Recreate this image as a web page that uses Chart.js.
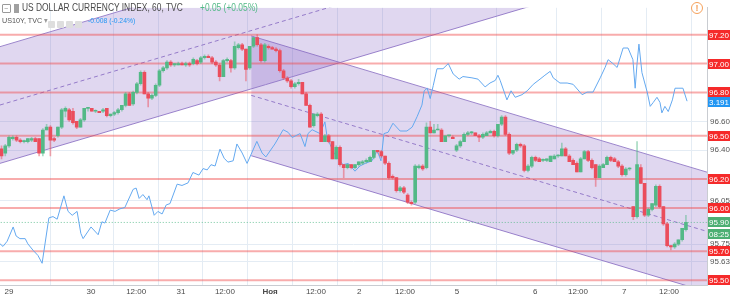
<!DOCTYPE html>
<html lang="ru">
<head>
<meta charset="UTF-8">
<title>US Dollar Currency Index, 60</title>
<script src="https://cdn.jsdelivr.net/npm/chart.js"></script>
<style>
  body { margin: 0; background: #fff; }
  .wrap { position: relative; width: 730px; height: 296px; overflow: hidden; }
  .hdr { position: absolute; white-space: nowrap; font-family: "Liberation Sans", Arial, sans-serif; line-height: 1; transform-origin: left top; }
  .ico { position: absolute; width: 7px; height: 7px; border: 1px solid #9a9a9a; border-radius: 1px; }
  .btn { display: inline-block; width: 7px; height: 7px; background: #dedede; margin-right: 2px; border-radius: 1px; vertical-align: middle; }
</style>
</head>
<body>
<div class="wrap">
  <canvas id="chart"></canvas>

  <div class="ico" style="left:2px;top:4px;"></div>
  <div class="hdr" style="left:4px;top:5px;font-size:7px;color:#888;">&minus;</div>
  <div class="hdr" style="left:14px;top:4px;width:5px;height:9px;background:#a0a0a0;"></div>
  <div class="hdr" style="left:22px;top:3px;font-size:10px;color:#4a4a4a;transform:scaleX(0.84);">US DOLLAR CURRENCY INDEX, 60, TVC</div>
  <div class="hdr" style="left:200px;top:3px;font-size:10px;color:#53b987;transform:scaleX(0.84);">+0.05 (+0.05%)</div>
  <div class="hdr" style="left:2px;top:17px;font-size:8px;color:#555;transform:scaleX(0.9);">US10Y, TVC <span style="color:#999">&#9662;</span></div>
  <div class="hdr" style="left:48px;top:16px;"><span class="btn"></span><span class="btn"></span><span class="btn"></span><span class="btn"></span></div>
  <div class="hdr" style="left:88px;top:17px;font-size:8px;color:#2196f3;transform:scaleX(0.85);">-0.008 (-0.24%)</div>
  <div class="hdr" style="left:691px;top:2px;width:10px;height:10px;border:1.5px solid #f5a05a;border-radius:50%;color:#f5a05a;font-size:9px;font-weight:bold;text-align:center;line-height:10px;">!</div>
</div>

<script>
// hourly candles, DXY (TVC), 29 Oct - 7 Nov
const opens = [
  96.41,96.38,96.43,96.48,96.49,96.47,96.46,96.46,96.47,96.48,
  96.48,96.38,96.54,96.56,96.48,96.50,96.56,96.67,96.68,96.67,
  96.60,96.56,96.61,96.69,96.69,96.67,96.67,96.67,96.69,96.64,
  96.65,96.66,96.68,96.71,96.79,96.72,96.80,96.86,96.94,96.79,
  96.76,96.78,96.85,96.95,96.97,97.01,96.99,96.99,97.00,96.99,
  97.00,97.00,97.02,97.01,97.04,97.05,97.04,97.01,96.99,96.91,
  97.02,97.02,96.97,97.11,97.13,97.10,96.97,97.12,97.18,97.13,
  97.02,97.12,97.11,97.10,97.09,96.95,96.90,96.88,96.84,96.86,
  96.87,96.79,96.71,96.57,96.64,96.65,96.46,96.50,96.46,96.34,
  96.42,96.30,96.28,96.30,96.28,96.30,96.31,96.32,96.32,96.35,
  96.40,96.39,96.36,96.31,96.22,96.21,96.12,96.14,96.09,96.04,
  96.04,96.28,96.29,96.28,96.56,96.52,96.54,96.54,96.46,96.50,
  96.49,96.40,96.43,96.46,96.51,96.52,96.52,96.50,96.49,96.50,
  96.52,96.53,96.50,96.58,96.63,96.51,96.38,96.40,96.44,96.43,
  96.26,96.29,96.35,96.34,96.33,96.33,96.32,96.34,96.36,96.36,
  96.41,96.36,96.33,96.31,96.25,96.34,96.39,96.33,96.30,96.21,
  96.28,96.30,96.35,96.34,96.32,96.29,96.23,96.27,96.01,95.94,
  96.28,96.17,95.95,95.99,96.02,96.15,96.01,95.89,95.74,95.73,
  95.75,95.78,95.85
];
const highs = [
  96.43,96.44,96.50,96.50,96.50,96.48,96.47,96.48,96.49,96.49,
  96.48,96.55,96.58,96.57,96.49,96.56,96.69,96.70,96.69,96.69,
  96.60,96.62,96.69,96.69,96.69,96.68,96.67,96.69,96.69,96.65,
  96.67,96.69,96.71,96.80,96.80,96.81,96.87,96.95,96.95,96.80,
  96.79,96.86,96.96,96.98,97.02,97.02,97.00,97.01,97.01,97.01,
  97.01,97.04,97.03,97.05,97.06,97.06,97.05,97.02,97.00,97.03,
  97.04,97.03,97.15,97.14,97.14,97.10,97.12,97.18,97.20,97.14,
  97.14,97.13,97.12,97.11,97.10,96.96,96.91,96.89,96.87,96.89,
  96.87,96.80,96.72,96.65,96.66,96.66,96.51,96.51,96.46,96.43,
  96.43,96.30,96.30,96.30,96.30,96.32,96.33,96.34,96.36,96.40,
  96.40,96.40,96.36,96.32,96.23,96.21,96.15,96.15,96.10,96.05,
  96.30,96.30,96.30,96.59,96.60,96.58,96.58,96.55,96.50,96.50,
  96.50,96.44,96.47,96.52,96.53,96.53,96.52,96.51,96.52,96.53,
  96.54,96.54,96.58,96.64,96.64,96.52,96.40,96.45,96.45,96.44,
  96.30,96.36,96.36,96.35,96.34,96.34,96.36,96.37,96.37,96.45,
  96.42,96.37,96.34,96.32,96.35,96.40,96.40,96.34,96.30,96.30,
  96.31,96.36,96.36,96.35,96.33,96.30,96.28,96.28,96.01,96.46,
  96.30,96.17,96.00,96.03,96.16,96.16,96.01,95.90,95.74,95.76,
  95.78,95.86,95.95
];
const lows = [
  96.34,96.36,96.42,96.47,96.46,96.45,96.45,96.45,96.46,96.46,
  96.36,96.36,96.54,96.36,96.46,96.49,96.55,96.63,96.60,96.58,
  96.55,96.56,96.60,96.67,96.67,96.66,96.66,96.66,96.63,96.63,
  96.64,96.65,96.67,96.70,96.71,96.71,96.79,96.85,96.79,96.70,
  96.75,96.77,96.84,96.94,96.96,96.98,96.98,96.99,96.99,96.98,
  96.98,96.99,96.99,97.00,97.03,97.04,97.00,96.98,96.88,96.91,
  97.01,96.94,96.96,97.10,97.09,96.88,96.96,97.11,97.12,97.01,
  97.01,97.10,97.10,97.08,96.94,96.89,96.87,96.83,96.83,96.85,
  96.79,96.71,96.56,96.56,96.63,96.46,96.46,96.45,96.34,96.34,
  96.29,96.21,96.27,96.27,96.27,96.29,96.30,96.31,96.32,96.34,
  96.38,96.35,96.30,96.20,96.20,96.11,96.11,96.10,96.03,96.02,
  96.03,96.27,96.26,96.27,96.52,96.52,96.54,96.46,96.46,96.49,
  96.48,96.39,96.42,96.46,96.50,96.51,96.50,96.46,96.48,96.50,
  96.52,96.49,96.49,96.57,96.50,96.37,96.37,96.39,96.42,96.25,
  96.25,96.28,96.32,96.32,96.32,96.32,96.32,96.34,96.35,96.36,
  96.36,96.32,96.30,96.25,96.25,96.34,96.32,96.27,96.15,96.21,
  96.28,96.30,96.32,96.32,96.28,96.22,96.22,96.26,95.92,95.93,
  96.17,95.94,95.94,95.98,96.01,96.00,95.88,95.73,95.71,95.72,
  95.74,95.77,95.84
];
const closes = [
  96.36,96.43,96.49,96.49,96.47,96.46,96.46,96.48,96.48,96.46,
  96.38,96.54,96.56,96.47,96.47,96.56,96.68,96.69,96.61,96.59,
  96.56,96.61,96.69,96.69,96.67,96.67,96.66,96.68,96.64,96.65,
  96.66,96.68,96.71,96.79,96.71,96.80,96.86,96.94,96.79,96.76,
  96.78,96.85,96.95,96.97,97.01,96.99,97.00,97.00,96.99,97.00,
  96.99,97.03,97.00,97.04,97.05,97.04,97.01,96.99,96.91,97.02,
  97.03,96.97,97.12,97.13,97.10,96.96,97.12,97.18,97.13,97.02,
  97.13,97.11,97.10,97.09,96.95,96.90,96.88,96.84,96.86,96.87,
  96.79,96.71,96.56,96.65,96.65,96.46,96.50,96.46,96.34,96.42,
  96.30,96.28,96.30,96.28,96.30,96.32,96.32,96.33,96.35,96.40,
  96.39,96.36,96.31,96.21,96.21,96.12,96.14,96.11,96.04,96.03,
  96.29,96.29,96.27,96.56,96.52,96.54,96.54,96.46,96.50,96.50,
  96.48,96.43,96.46,96.51,96.52,96.52,96.50,96.49,96.51,96.52,
  96.53,96.50,96.58,96.63,96.51,96.38,96.40,96.44,96.43,96.26,
  96.29,96.35,96.33,96.32,96.33,96.34,96.36,96.36,96.36,96.41,
  96.36,96.32,96.30,96.25,96.34,96.39,96.33,96.28,96.21,96.29,
  96.30,96.35,96.33,96.32,96.29,96.23,96.27,96.27,95.94,96.30,
  96.17,95.95,95.99,96.03,96.15,96.01,95.89,95.74,95.73,95.75,
  95.78,95.86,95.90
];

// US10Y overlay (own scale), positions in bars
const yieldIdx = [
  -0.4,0.4,1.5,3.1,3.9,4.9,6.3,7.0,8.4,9.7,10.8,12.6,13.7,14.8,16.6,17.7,18.8,20.1,21.1,21.7,
  23.8,25.7,26.7,27.5,28.9,30.2,31.5,32.8,35.0,35.8,36.6,37.6,38.7,39.2,40.6,41.6,42.7,43.8,44.8,46.7,
  48.0,49.6,50.9,52.5,53.6,54.7,55.7,56.8,58.1,59.2,60.2,61.6,62.6,64.0,65.3,67.9,69.3,70.3,72.7,74.9,
  76.2,77.3,79.4,80.7,81.5,82.6,84.7,86.0,86.6,88.2,90.8,92.2,94.0,95.3,96.7,98.5,99.9,100.9,101.7,102.8,
  104.1,106.0,107.8,109.2,110.5,111.8,112.4,113.2,114.0,114.8,115.8,117.4,118.8,120.1,121.7,122.7,125.1,126.7,128.6,129.9,
  131.3,132.0,132.6,134.4,135.5,136.6,138.4,139.8,141.4,143.2,144.5,145.9,146.7,148.5,150.4,152.0,154.4,155.7,157.3,159.2,
  160.5,161.3,162.6,163.7,165.3,166.6,167.9,168.5,169.0,169.5,170.3,171.7,172.5,173.3,174.3,175.1,175.6,176.4,177.3,178.4,
  179.1,179.9,181.2,182.3
];
const yieldVal = [
  3.081,3.079,3.083,3.094,3.087,3.085,3.085,3.081,3.076,3.072,3.066,3.101,3.102,3.100,3.118,3.106,3.103,3.106,3.089,3.085,
  3.094,3.088,3.098,3.097,3.107,3.106,3.108,3.109,3.123,3.124,3.116,3.119,3.115,3.118,3.103,3.106,3.104,3.111,3.112,3.127,
  3.126,3.128,3.136,3.134,3.139,3.138,3.142,3.141,3.154,3.147,3.144,3.145,3.158,3.151,3.143,3.160,3.151,3.148,3.158,3.169,
  3.167,3.163,3.166,3.156,3.166,3.169,3.166,3.175,3.163,3.152,3.142,3.143,3.137,3.141,3.143,3.145,3.153,3.145,3.166,3.167,
  3.174,3.168,3.168,3.171,3.179,3.188,3.199,3.201,3.193,3.203,3.216,3.216,3.220,3.212,3.208,3.210,3.209,3.208,3.202,3.205,
  3.207,3.211,3.207,3.192,3.199,3.194,3.196,3.199,3.204,3.208,3.211,3.214,3.209,3.205,3.205,3.204,3.196,3.198,3.198,3.209,
  3.217,3.223,3.220,3.217,3.232,3.232,3.223,3.201,3.220,3.235,3.213,3.198,3.187,3.190,3.194,3.190,3.182,3.187,3.183,3.192,
  3.201,3.201,3.201,3.191
];

// horizontal levels and channels drawn on the chart
const levels = [97.20, 97.00, 96.80, 96.50, 96.20, 96.00, 95.70, 95.50];
const lastPrice = 95.90;
const lastYield = 3.191;
const countdown = '08:25';

const upX = [-0.4, 141];
const upTop = [97.117, 98.208];
const upMid = [96.713, 97.804];
const upBot = [96.309, 97.400];
const dnX = [66.4, 188];
const dnTop = [97.191, 96.245];
const dnMid = [96.780, 95.835];
const dnBot = [96.362, 95.417];

const priceTicks = [96.60, 96.40, 96.05, 95.75, 95.63];
const timeTickPos = [2.0, 23.8, 35.8, 47.7, 59.4, 71.4, 83.6, 95.1, 107.3, 121.1, 141.9, 153.3, 165.6, 177.5];
const timeTickLabels = ['29', '30', '12:00', '31', '12:00', 'Ноя', '12:00', '2', '12:00', '5', '6', '12:00', '7', '12:00'];

const UP = '#53b987', DOWN = '#eb4d5c';
const CH_LINE = '#9c86cc', CH_FILL = 'rgba(126,87,194,0.24)';

function pts(xs, ys) { return xs.map((x, i) => ({ x: x, y: ys[i] })); }

const datasets = [];
// channels: top (fill to bottom), bottom, dashed middle
function addChannel(xs, top, mid, bot) {
  const topIdx = datasets.length;
  datasets.push({ type: 'line', data: pts(xs, top), borderColor: CH_LINE, borderWidth: 1, pointRadius: 0,
                  fill: { target: topIdx + 1 }, backgroundColor: CH_FILL, order: 50 });
  datasets.push({ type: 'line', data: pts(xs, bot), borderColor: CH_LINE, borderWidth: 1, pointRadius: 0, fill: false, order: 50 });
  datasets.push({ type: 'line', data: pts(xs, mid), borderColor: CH_LINE, borderWidth: 1, borderDash: [4, 3], pointRadius: 0, fill: false, order: 50 });
}
addChannel(upX, upTop, upMid, upBot);
addChannel(dnX, dnTop, dnMid, dnBot);

levels.forEach(p => {
  datasets.push({ type: 'line', data: [{ x: -1, y: p }, { x: 190, y: p }], borderColor: 'rgba(240,70,70,0.45)',
                  borderWidth: 2, pointRadius: 0, fill: false, order: 40 });
});
datasets.push({ type: 'line', data: [{ x: -1, y: lastPrice }, { x: 190, y: lastPrice }], borderColor: 'rgba(83,185,135,0.8)',
                borderWidth: 1, borderDash: [1, 2], pointRadius: 0, fill: false, order: 35 });

datasets.push({ type: 'line', yAxisID: 'y2', data: pts(yieldIdx, yieldVal), borderColor: '#64a9f0', borderWidth: 1,
                pointRadius: 0, fill: false, tension: 0, order: 30 });

datasets.push({ type: 'bar', data: highs.map((h, i) => ({ x: i, y: [lows[i], h] })), barThickness: 1, grouped: false,
                backgroundColor: c => closes[c.dataIndex] >= opens[c.dataIndex] ? 'rgba(83,185,135,0.5)' : 'rgba(235,77,92,0.5)',
                order: 20 });
datasets.push({ type: 'bar', data: opens.map((o, i) => ({ x: i, y: [o, closes[i]] })), barThickness: 3, grouped: false,
                minBarLength: 1,
                backgroundColor: c => closes[c.dataIndex] >= opens[c.dataIndex] ? UP : DOWN,
                order: 10 });

const tagPlugin = {
  id: 'tags',
  afterDraw(chart) {
    const { ctx, chartArea, scales } = chart;
    const x0 = chartArea.right + 1;
    const w = chart.width - x0;
    function tag(y, text, bg) {
      y = Math.round(y);
      ctx.fillStyle = bg;
      ctx.fillRect(x0, y - 5, w, 10);
      ctx.fillStyle = '#fff';
      ctx.fillText(text, x0 + w / 2, y + 0.5);
    }
    ctx.save();
    ctx.font = '8px "Liberation Sans", Arial, sans-serif';
    ctx.textAlign = 'center';
    ctx.textBaseline = 'middle';
    levels.forEach(p => tag(scales.y.getPixelForValue(p), p.toFixed(2), '#f52a2a'));
    const ly = scales.y.getPixelForValue(lastPrice);
    tag(ly, lastPrice.toFixed(2), '#4caf73');
    tag(ly + 12, countdown, '#4caf73');
    tag(scales.y2.getPixelForValue(lastYield) + 1, lastYield.toFixed(3), '#2196f3');
    ctx.restore();
  }
};

new Chart(document.getElementById('chart'), {
  type: 'bar',
  data: { datasets: datasets },
  plugins: [tagPlugin],
  options: {
    responsive: true,
    maintainAspectRatio: false,
    animation: false,
    layout: { padding: 0 },
    plugins: { legend: { display: false }, tooltip: { enabled: false } },
    scales: {
      x: {
        type: 'linear', min: -0.4, max: 187.6, offset: false,
        grid: { color: '#e4ecf4', drawTicks: false },
        border: { color: '#c9ccd1' },
        afterBuildTicks: s => { s.ticks = timeTickPos.map(v => ({ value: v })); },
        afterFit: s => { s.height = 11; },
        ticks: {
          autoSkip: false, maxRotation: 0, padding: 2, color: '#4a4a4a',
          font: c => ({ family: '"Liberation Sans", Arial, sans-serif', size: 8,
                        weight: timeTickLabels[c.index] === 'Ноя' ? 'bold' : 'normal' }),
          callback: (v, i) => timeTickLabels[i]
        }
      },
      y: {
        position: 'right', min: 95.467, max: 97.386,
        grid: { color: '#e4ecf4', drawTicks: false },
        border: { color: '#c9ccd1' },
        afterBuildTicks: s => { s.ticks = priceTicks.map(v => ({ value: v })); },
        afterFit: s => { s.width = 23; },
        ticks: { padding: 3, color: '#555', font: { family: '"Liberation Sans", Arial, sans-serif', size: 8 },
                 callback: v => v.toFixed(2) }
      },
      y2: { position: 'right', display: false, min: 3.04925, max: 3.263 }
    }
  }
});
</script>
</body>
</html>
